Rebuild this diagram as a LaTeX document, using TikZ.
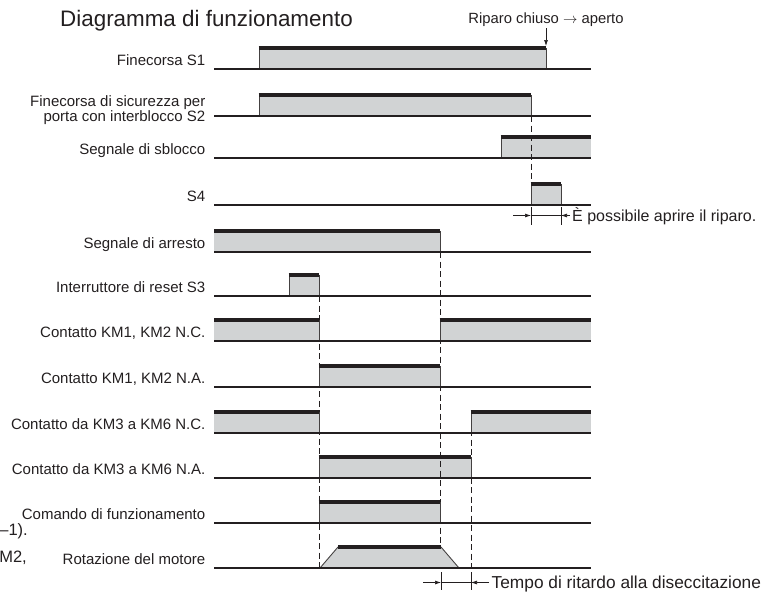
\documentclass[tikz,border=0pt]{standalone}
\usepackage{fontspec}
\setmainfont{Liberation Sans}
\usetikzlibrary{arrows.meta}
\definecolor{ink}{HTML}{231F20}
\definecolor{pfill}{HTML}{D1D3D4}
\newcommand\pfillbox[3]{\fill[pfill] (#1,#3-21) rectangle (#2,#3);}
\newcommand\ptopline[3]{\draw[topl] (#1,#3-21) -- (#2,#3-21);}
\newcommand\pedge[2]{\draw[side] (#1,#2) -- (#1,#2-21);}
\begin{document}
\begin{tikzpicture}[x=1pt,y=-1pt,
  lbl/.style={anchor=base east,inner sep=0pt,text=ink,align=right,font=\fontsize{15}{14.5}\selectfont},
  txt/.style={inner sep=0pt,text=ink,font=\fontsize{14.8}{17}\selectfont},
  baseln/.style={draw=ink,line width=1.8pt},
  topl/.style={draw=ink,line width=3.2pt},
  side/.style={draw=ink!85,line width=0.9pt},
  dline/.style={draw=ink,line width=0.8pt,dash pattern=on 6pt off 3.5pt},
  ann/.style={draw=ink,line width=0.7pt},
  tip/.style={-{Latex[length=6pt,width=4pt]}}
]
\useasboundingbox (0,0) rectangle (772,603);

% title
\node[txt,anchor=base west,font=\fontsize{22.4}{25}\selectfont] (title) at (60,26) {Diagramma di funzionamento};

% partial texts at left edge
\node[txt,anchor=base east,font=\fontsize{16.5}{18}\selectfont] (cut1) at (28,535) {–1).};
\node[txt,anchor=base east,font=\fontsize{16.5}{18}\selectfont] (cut2) at (27,562) {M2,};

% labels
\node[lbl] (L1) at (205.5,65) {Finecorsa S1};
\node[lbl] (L2) at (205.5,121) {Finecorsa di sicurezza per\\porta con interblocco S2};
\node[lbl] (L3) at (205.5,154) {Segnale di sblocco};
\node[lbl] (L4) at (205.5,201) {S4};
\node[lbl] (L5) at (205.5,248) {Segnale di arresto};
\node[lbl] (L6) at (205.5,292) {Interruttore di reset S3};
\node[lbl] (L7) at (205.5,337) {Contatto KM1, KM2 N.C.};
\node[lbl] (L8) at (205.5,383) {Contatto KM1, KM2 N.A.};
\node[lbl] (L9) at (205.5,429) {Contatto da KM3 a KM6 N.C.};
\node[lbl] (L10) at (205.5,474) {Contatto da KM3 a KM6 N.A.};
\node[lbl] (L11) at (205.5,519) {Comando di funzionamento};
\node[lbl] (L12) at (205.5,564) {Rotazione del motore};

% pulse fills
\pfillbox{259}{546}{69}
\pfillbox{259}{531}{116}
\pfillbox{501}{591}{158}
\pfillbox{531}{561}{205}
\pfillbox{214}{440}{252}
\pfillbox{289}{319}{296}
\pfillbox{214}{319}{341}
\pfillbox{440}{591}{341}
\pfillbox{319}{440}{387}
\pfillbox{214}{319}{433}
\pfillbox{471}{591}{433}
\pfillbox{319}{471}{478}
\pfillbox{319}{440}{523}
\fill[pfill] (320,568) -- (338,547) -- (441,547) -- (459,568) -- cycle;

% dashed guide lines
\draw[dline] (531,116) -- (531,184);
\draw[dline] (319,296) -- (319,568);
\draw[dline] (440,252) -- (440,547);
\draw[dline] (471,411) -- (471,568);

% pulse edges
\pedge{259}{69}\pedge{546}{69}
\pedge{259}{116}\pedge{531}{116}
\pedge{501}{158}
\pedge{531}{205}\pedge{561}{205}
\pedge{440}{252}
\pedge{289}{296}\pedge{319}{296}
\pedge{319}{341}\pedge{440}{341}
\pedge{319}{387}\pedge{440}{387}
\pedge{319}{433}\pedge{471}{433}
\pedge{319}{478}\pedge{471}{478}
\pedge{319}{523}\pedge{440}{523}
\draw[side] (320,568) -- (338,547);
\draw[side] (441,547) -- (459,568);

% pulse tops
\ptopline{258.6}{546.4}{69}
\ptopline{258.6}{531.4}{116}
\ptopline{500.6}{591}{158}
\ptopline{530.6}{561.4}{205}
\ptopline{214}{440.4}{252}
\ptopline{288.6}{319.4}{296}
\ptopline{214}{319.4}{341}
\ptopline{439.6}{591}{341}
\ptopline{318.6}{440.4}{387}
\ptopline{214}{319.4}{433}
\ptopline{470.6}{591}{433}
\ptopline{318.6}{471.4}{478}
\ptopline{318.6}{440.4}{523}
\draw[topl] (338,547) -- (441,547);

% baselines
\foreach \yy in {69,116,158,205,252,296,341,387,433,478,523,568}
  \draw[baseln] (214,\yy) -- (591,\yy);

% annotation: Riparo chiuso -> aperto
\node[txt,anchor=base] (rip) at (546,23) {Riparo chiuso $\rightarrow$ aperto};
\coordinate (ripend) at (546,46);
\draw[ann,tip] ([yshift=-2pt]rip.south) -- (ripend);

% annotation: S4 window
\coordinate (a1) at (531,207); \coordinate (a2) at (531,225);
\coordinate (b1) at (561,207); \coordinate (b2) at (561,225);
\coordinate (aL) at (513,215.5); \coordinate (aM) at (531,215.5);
\coordinate (bM) at (561,215.5); \coordinate (bR) at (570,215.5);
\draw[ann] (a1) -- (a2);
\draw[ann] (b1) -- (b2);
\draw[ann] (aM) -- (bM);
\draw[ann,tip] (aL) -- (aM);
\draw[ann,tip] (bR) -- (bM);
\node[txt,anchor=base west,font=\fontsize{16}{18}\selectfont] (pos) at (572,221) {È possibile aprire il riparo.};

% annotation: delay time
\coordinate (c1) at (441,572); \coordinate (c2) at (441,590);
\coordinate (d1) at (471,572); \coordinate (d2) at (471,590);
\coordinate (cL) at (423,582.5); \coordinate (cM) at (441,582.5);
\coordinate (dM) at (471,582.5); \coordinate (dR) at (489,582.5);
\draw[ann] (c1) -- (c2);
\draw[ann] (d1) -- (d2);
\draw[ann] (cM) -- (dM);
\draw[ann,tip] (cL) -- (cM);
\draw[ann,tip] (dR) -- (dM);
\node[txt,anchor=base west,font=\fontsize{17.3}{19}\selectfont] (tdel) at (491.5,588) {Tempo di ritardo alla diseccitazione};
\end{tikzpicture}
\end{document}
